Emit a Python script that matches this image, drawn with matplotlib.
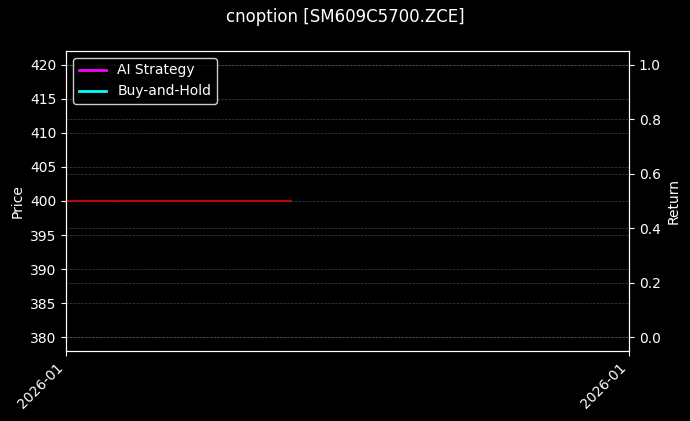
import datetime as dt
import matplotlib
matplotlib.use("Agg")
import matplotlib.pyplot as plt
import matplotlib.dates as mdates

# datos
symbol = "SM609C5700.ZCE"
price_dates = [dt.datetime(2026, 1, 5), dt.datetime(2026, 1, 6), dt.datetime(2026, 1, 7),
               dt.datetime(2026, 1, 8), dt.datetime(2026, 1, 9)]
price_values = [400, 400, 400, 400, 400]
strategy_dates = []
strategy_returns = []
bh_dates = []
bh_returns = []
x_range = [dt.datetime(2026, 1, 5), dt.datetime(2026, 1, 15)]
price_range = [378, 422]

plt.style.use("dark_background")
fig, ax = plt.subplots(figsize=(6.9, 4.21), dpi=100)
fig.subplots_adjust(left=0.0957, right=0.9116, top=0.8789, bottom=0.1663)

ax.plot(price_dates, price_values, color="red", lw=1.2, alpha=0.9)
ax.set_ylim(*price_range)
ax.set_ylabel("Price")
ax.grid(True, axis="y", color="gray", linestyle="--", linewidth=0.5, alpha=0.5)

ax2 = ax.twinx()
ax2.plot(strategy_dates, strategy_returns, color="magenta", lw=2, label="AI Strategy")
ax2.plot(bh_dates, bh_returns, color="cyan", lw=2, label="Buy-and-Hold")
ax2.set_ylim(-0.05, 1.05)
ax2.set_ylabel("Return")
ax2.grid(True, axis="y", color="gray", linestyle="--", linewidth=0.5, alpha=0.5)

ax.set_xlim(*x_range)
ax.set_xticks(x_range)
ax.xaxis.set_major_formatter(mdates.DateFormatter("%Y-%m"))
plt.setp(ax.get_xticklabels(), rotation=45, ha="right")

ax2.legend(loc="upper left", facecolor="black", edgecolor="white")
fig.suptitle(f"cnoption [{symbol}]", fontsize=12)

fig.savefig("out.png", dpi=100)
